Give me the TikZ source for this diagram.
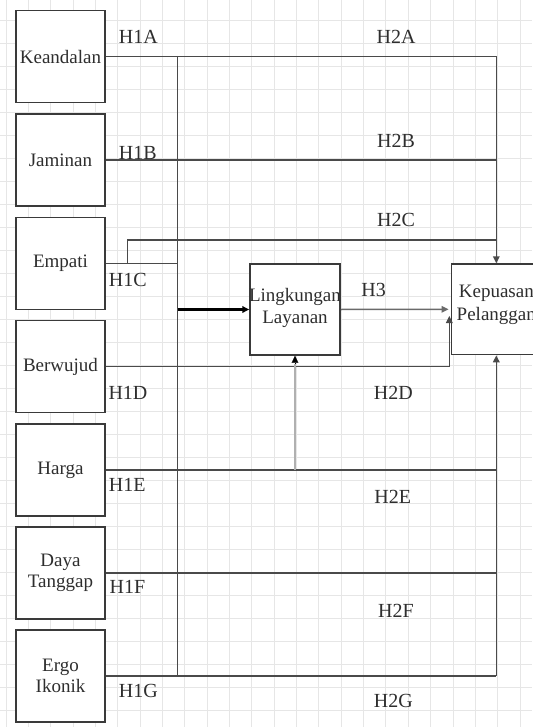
\documentclass[tikz,border=0pt]{standalone}
\usepackage{fontspec}
\setmainfont{Liberation Serif}
\usetikzlibrary{arrows.meta,calc}
\definecolor{gridc}{HTML}{E6E6E6}
\definecolor{boxc}{HTML}{3A3A3A}
\definecolor{linec}{HTML}{4A4A4A}
\definecolor{txt}{HTML}{2E2E2E}
\definecolor{lightc}{HTML}{B0B0B0}
\definecolor{midc}{HTML}{6A6A6A}
\begin{document}
\begin{tikzpicture}[x=1pt,y=-1pt,
  box/.style={draw=boxc, line width=1.5pt, fill=white, minimum width=89pt, minimum height=92pt, inner sep=0pt, align=center, font=\fontsize{19}{21.6}\selectfont, text=txt},
  boxtext/.style={inner sep=0pt, align=center, font=\fontsize{19}{22.6}\selectfont, text=txt},
  lbl/.style={font=\fontsize{20}{22}\selectfont, text=txt, inner sep=0pt},
  conn/.style={draw=linec, line width=1.5pt},
  tip/.style={-{Triangle[length=7pt,width=6.5pt]}},
  gridline/.style={draw=gridc, line width=1pt}]
\useasboundingbox (0,0) rectangle (532,727);
\fill[white] (0,0) rectangle (532,727);
% grid
\foreach \k in {0,...,23} \draw[gridline] ({6+22.35*\k},0) -- ({6+22.35*\k},727);
\foreach \k in {0,...,30} \draw[gridline] (0,{20.7+23*\k}) -- (532,{20.7+23*\k});

\coordinate (busT) at (177.7,56);
\coordinate (busB) at (177.7,676);
\coordinate (empK) at (127.7,264);
\coordinate (h2c) at (496.3,240);
\coordinate (berIn) at (449.3,316);

% left boxes
\node[box] (kean) at (60.5,56.7) {Keandalan};
\node[box] (jam) at (60.5,160) {Jaminan};
\node[box] (emp) at (60.5,263.5) {Empati};
\node[box] (ber) at (60.5,366.5) {Berwujud};
\node[box] (har) at (60.5,470) {Harga};
\node[box] (daya) at (60.5,572.8) {Daya\\Tanggap};
\node[box] (ergo) at (60.5,676) {Ergo\\Ikonik};

% middle and right boxes
\node[box, minimum width=90pt, minimum height=91pt] (lin) at (295,309.5) {};
\node[boxtext] (linT) at (295,308) {Lingkungan\\Layanan};
\node[box, minimum width=89.3pt, minimum height=90.5pt] (kep) at (496.3,309.3) {};
\node[boxtext] (kepT) at (496.3,304.7) {Kepuasan\\Pelanggan};

% lines
\draw[conn] (busT) -- (busB);
\draw[conn, tip] (kean.east) -| (kep.north);
\draw[conn] (jam.east) -- (jam.east -| kep.north);
\draw[conn] (emp.east) -- (emp.east -| busT);
\draw[conn] (empK) |- (h2c);
\draw[conn, tip] (ber.east) -| (berIn);
\draw[conn] (har.east) -- (har.east -| kep.south);
\draw[conn] (daya.east) -- (daya.east -| kep.south);
\draw[conn] (ergo.east) -- (ergo.east -| kep.south);
\draw[conn, tip] (ergo.east -| kep.south) -- (kep.south);
\draw[draw=black, line width=2.2pt, tip] (busT |- lin.west) -- (lin.west);
\draw[draw=midc, line width=1.5pt, tip, shorten >=2.4pt] (lin.east) -- (kep.west);
\draw[draw=lightc, line width=2.2pt] (har.east -| lin.south) -- ($(lin.south)+(0,8)$);
\draw[draw=black, -{Triangle[length=7pt,width=6.5pt]}, line width=0.1pt] ($(lin.south)+(0,8)$) -- (lin.south);

% labels
\node[lbl] (h1a) at (138.3,36.7) {H1A};
\node[lbl] (h2a) at (396,36.7) {H2A};
\node[lbl] (h1b) at (137.7,153.3) {H1B};
\node[lbl] (h2b) at (396,140.7) {H2B};
\node[lbl] (h2cl) at (396,220) {H2C};
\node[lbl] (h1c) at (127.7,280) {H1C};
\node[lbl] (h3) at (373.6,290) {H3};
\node[lbl] (h1d) at (128,392.7) {H1D};
\node[lbl] (h2d) at (393.3,392.7) {H2D};
\node[lbl] (h1e) at (127.3,485) {H1E};
\node[lbl] (h2e) at (392.7,496.7) {H2E};
\node[lbl] (h1f) at (127.5,587.3) {H1F};
\node[lbl] (h2f) at (396,610.7) {H2F};
\node[lbl] (h1g) at (138.3,690.7) {H1G};
\node[lbl] (h2g) at (393.3,700.7) {H2G};
\end{tikzpicture}
\end{document}
